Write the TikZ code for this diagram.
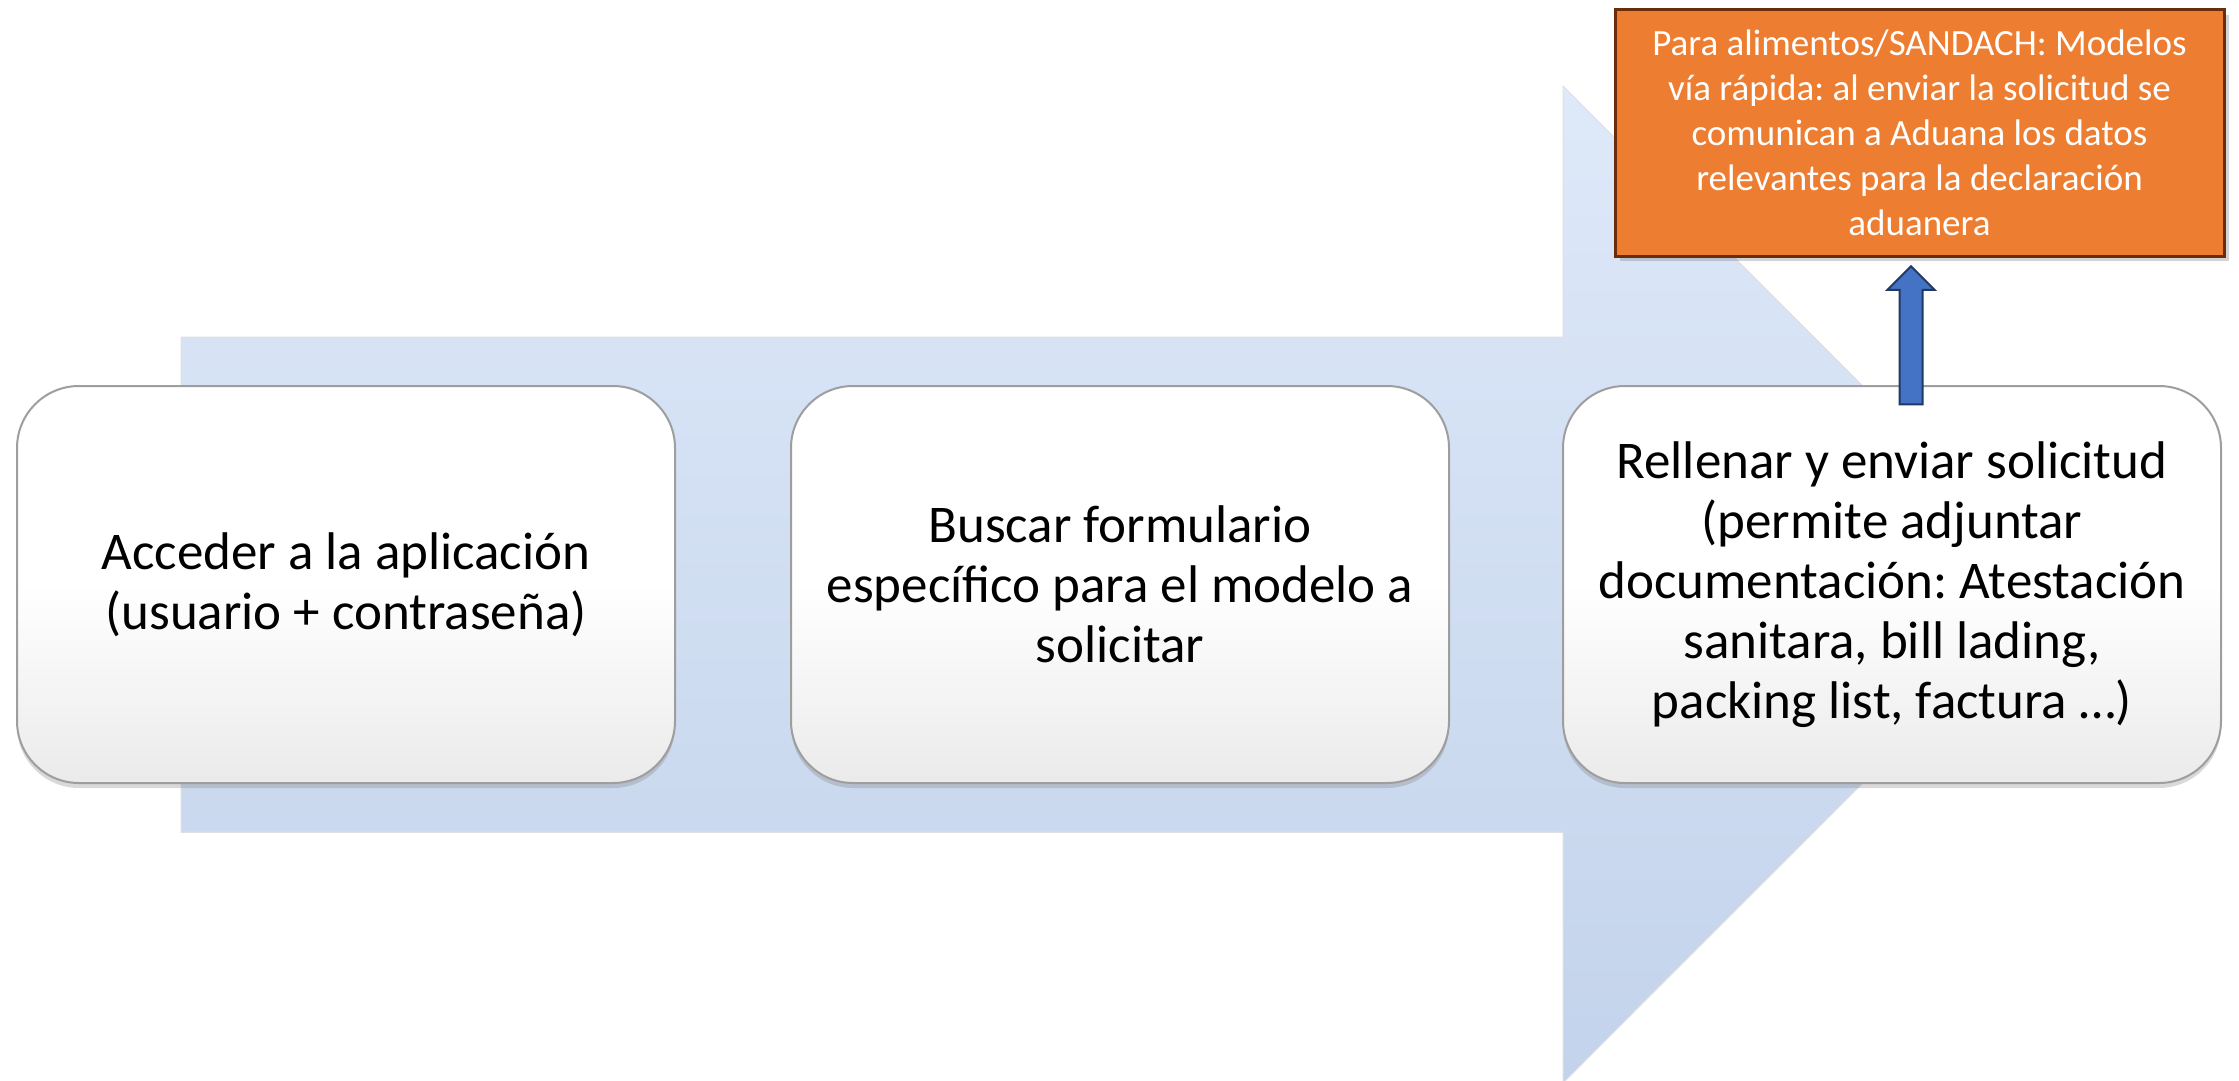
\documentclass[tikz,border=0pt]{standalone}
\usepackage{fontspec}
\setmainfont{Carlito}
\frenchspacing
\usetikzlibrary{shapes.arrows,shadows}
\definecolor{flowtop}{HTML}{DEE9F9}
\definecolor{flowbot}{HTML}{C3D3EB}
\definecolor{naranja}{HTML}{ED7D31}
\definecolor{marron}{HTML}{6B2C0B}
\definecolor{azul}{HTML}{4472C4}
\definecolor{marino}{HTML}{1F3864}
\tikzset{
  bigarrow/.style={top color=flowtop, bottom color=flowbot, draw=black!12, line width=1pt},
  stepbox/.style={draw=black!38, line width=2pt, rounded corners=62pt, top color=white, bottom color=black!8, middle color=white,
    minimum width=658pt, minimum height=397pt, align=center, font=\fontsize{53}{60}\selectfont,
    drop shadow={opacity=0.3, shadow xshift=0pt, shadow yshift=-5pt}},
  notebox/.style={draw=marron, line width=3pt, fill=naranja, text=white, minimum width=609pt, minimum height=246pt,
    align=center, font=\fontsize{37}{45}\selectfont, drop shadow={opacity=0.35, shadow xshift=5pt, shadow yshift=-5pt}},
  uparrow/.style={single arrow, draw=marino, line width=2pt, fill=azul, rotate=90, inner xsep=0pt, inner ysep=10.5pt,
    minimum height=138pt, single arrow head extend=12pt, single arrow tip angle=90}
}
\begin{document}
\begin{tikzpicture}[x=1pt,y=-1pt]
\useasboundingbox (0,0) rectangle (2239,1081);
\filldraw[bigarrow] (181,337) -- (1563,337) -- (1563,86) -- (2061,584.5) -- (1563,1083) -- (1563,832) -- (181,832) -- cycle;
\node[stepbox] (acceder) at (346,584.5) {Acceder a la aplicación\\(usuario + contraseña)};
\node[stepbox] (buscar) at (1120,584.5) {Buscar formulario\\específico para el modelo a\\solicitar};
\node[stepbox] (rellenar) at (1892,584.5) {Rellenar y enviar solicitud\\(permite adjuntar\\documentación: Atestación\\sanitara, bill lading,\\packing list, factura …)};
\node[notebox] (nota) at (1919.5,133) {Para alimentos/SANDACH: Modelos\\vía rápida: al enviar la solicitud se\\comunican a Aduana los datos\\relevantes para la declaración\\aduanera};
\node[uparrow] (flecha) at (1911,341) {};
\end{tikzpicture}
\end{document}
